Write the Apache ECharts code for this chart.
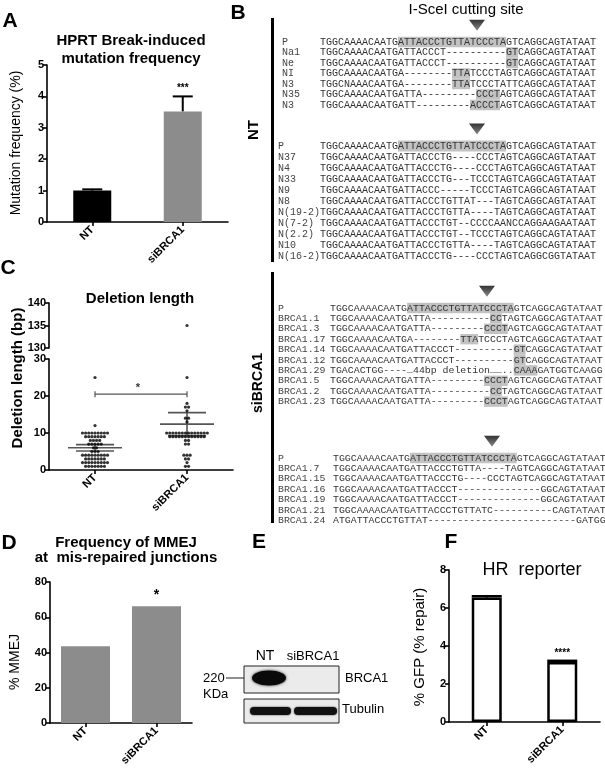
<!DOCTYPE html>
<html>
<head>
<meta charset="utf-8">
<script src="https://cdn.jsdelivr.net/npm/echarts@6/dist/echarts.min.js"></script>
<style>
    html, body { margin: 0; padding: 0; background: #fff; }
    #chart { width: 605px; height: 770px; }
</style>
</head>
<body>
<div id="chart"></div>
<script>
    // groups on every x axis
    const groups = ['NT', 'siBRCA1'];

    // A: HPRT break-induced mutation frequency (%)
    const hprtMean = [1.0, 3.52];
    const hprtErr = [0.04, 0.48];
    const hprtStars = ['', '***'];

    // C: deletion length (bp), one value per junction
    const delNT = [25, 12,
        10, 10, 10, 10, 10, 10, 10, 10, 10,
        9, 9, 9, 9, 9, 9, 9,
        8, 8, 8, 8,
        7, 7, 7, 7, 7,
        6, 6,
        5, 5, 5,
        4, 4, 4, 4, 4, 4, 4, 4, 4,
        3, 3, 3, 3, 3, 3, 3,
        2, 2, 2, 2, 2, 2, 2, 2, 2,
        1, 1, 1, 1, 1, 1, 1];
    const delSi = [135, 25, 18, 17, 17, 16, 14, 14, 13,
        10, 10, 10, 10, 10, 10, 10, 10, 10, 10, 10, 10, 10, 10,
        9, 9, 9, 9, 9, 9, 9, 9, 9, 9, 9, 9,
        8, 8, 7, 7, 4, 4, 4, 3, 3, 2, 1, 1];
    const delMean = [6.0, 12.4];
    const delSem = [0.85, 3.1];
    const delSigLevel = 20.5;

    // D: % MMEJ at mis-repaired junctions
    const mmej = [43.6, 66.3];
    const mmejStars = ['', '*'];

    // F: HR reporter, % GFP
    const gfp = [6.55, 3.16];
    const gfpErr = [0.07, 0.06];
    const gfpStars = ['', '****'];

    // B: junction sequences, marks = [start, length] of shaded part
    const ntSet1Labels = ['P', 'Na1', 'Ne', 'NI', 'N3', 'N35', 'N3'];
    const ntSet1Seqs = [
        'TGGCAAAACAATGATTACCCTGTTATCCCTAGTCAGGCAGTATAAT',
        'TGGCAAAACAATGATTACCCT----------GTCAGGCAGTATAAT',
        'TGGCAAAACAATGATTACCCT----------GTCAGGCAGTATAAT',
        'TGGCAAAACAATGA--------TTATCCCTAGTCAGGCAGTATAAT',
        'TGGCNAAACAATGA--------TTATCCCTATTCAGGCAGTATAAT',
        'TGGCAAAACAATGATTA---------CCCTAGTCAGGCAGTATAAT',
        'TGGCAAAACAATGATT---------ACCCTAGTCAGGCAGTATAAT'
    ];
    const ntSet1Marks = [[13, 18], [31, 2], [31, 2], [22, 3], [22, 3], [26, 4], [25, 5]];

    const ntSet2Labels = ['P', 'N37', 'N4', 'N33', 'N9', 'N8', 'N(19-2)', 'N(7-2)', 'N(2.2)', 'N10', 'N(16-2)'];
    const ntSet2Seqs = [
        'TGGCAAAACAATGATTACCCTGTTATCCCTAGTCAGGCAGTATAAT',
        'TGGCAAAACAATGATTACCCTG----CCCTAGTCAGGCAGTATAAT',
        'TGGCAAAACAATGATTACCCTG----CCCTAGTCAGGCAGTATAAT',
        'TGGCAAAACAATGATTACCCTG---TCCCTAGTCAGGCAGTATAAT',
        'TGGCAAAACAATGATTACCC-----TCCCTAGTCAGGCAGTATAAT',
        'TGGCAAAACAATGATTACCCTGTTAT---TAGTCAGGCAGTATAAT',
        'TGGCAAAACAATGATTACCCTGTTA----TAGTCAGGCAGTATAAT',
        'TGGCAAAACAATGATTACCCTGT--CCCCAANCCAGGAAGAATAAT',
        'TGGCAAAACAATGATTACCCTGT--TCCCTAGTCAGGCAGTATAAT',
        'TGGCAAAACAATGATTACCCTGTTA----TAGTCAGGCAGTATAAT',
        'TGGCAAAACAATGATTACCCTG----CCCTAGTCAGGCGGTATAAT'
    ];
    const ntSet2Marks = [[13, 18]];

    const siSet1Labels = ['P', 'BRCA1.1', 'BRCA1.3', 'BRCA1.17', 'BRCA1.14', 'BRCA1.12', 'BRCA1.29', 'BRCA1.5', 'BRCA1.2', 'BRCA1.23'];
    const siSet1Seqs = [
        'TGGCAAAACAATGATTACCCTGTTATCCCTAGTCAGGCAGTATAAT',
        'TGGCAAAACAATGATTA----------CCTAGTCAGGCAGTATAAT',
        'TGGCAAAACAATGATTA---------CCCTAGTCAGGCAGTATAAT',
        'TGGCAAAACAATGA--------TTATCCCTAGTCAGGCAGTATAAT',
        'TGGCAAAACAATGATTACCCT----------GTCAGGCAGTATAAT',
        'TGGCAAAACAATGATTACCCT----------GTCAGGCAGTATAAT',
        'TGACACTGG----\u202644bp deletion\u2026\u2026..CAAAGATGGTCAAGG',
        'TGGCAAAACAATGATTA---------CCCTAGTCAGGCAGTATAAT',
        'TGGCAAAACAATGATTA----------CCTAGTCAGGCAGTATAAT',
        'TGGCAAAACAATGATTA---------CCCTAGTCAGGCAGTATAAT'
    ];
    const siSet1Marks = [[13, 18], [27, 2], [26, 4], [22, 3], [31, 2], [31, 2], [31, 4], [26, 4], [27, 2], [26, 4]];

    const siSet2Labels = ['P', 'BRCA1.7', 'BRCA1.15', 'BRCA1.16', 'BRCA1.19', 'BRCA1.21', 'BRCA1.24'];
    const siSet2Seqs = [
        'TGGCAAAACAATGATTACCCTGTTATCCCTAGTCAGGCAGTATAAT',
        'TGGCAAAACAATGATTACCCTGTTA----TAGTCAGGCAGTATAAT',
        'TGGCAAAACAATGATTACCCTG----CCCTAGTCAGGCAGTATAAT',
        'TGGCAAAACAATGATTACCCT--------------GGCAGTATAAT',
        'TGGCAAAACAATGATTACCCT--------------GGCAGTATAAT',
        'TGGCAAAACAATGATTACCCTGTTATC----------CAGTATAAT',
        'ATGATTACCCTGTTAT-------------------------GATGG'
    ];
    const siSet2Marks = [[13, 18]];

    const sans = '"Liberation Sans", Arial, sans-serif'
    const mono = '"Liberation Mono", "Courier New", monospace'

    // spread equal values side by side (beeswarm)
    function swarm(values, center) {
        let seen = {}, total = {}
        values.forEach(v => { total[v] = (total[v] || 0) + 1 })
        return values.map(v => {
            let j = seen[v] = (seen[v] === undefined ? 0 : seen[v] + 1)
            return [center + (j - (total[v] - 1) / 2) * 0.034, v]
        })
    }
    let swarmPts = swarm(delNT, 1).concat(swarm(delSi, 2))

    // error bar + stars on top of a bar (category x axis)
    function errorBars(capHalf, lw, stars, starFont, gap) {
        return function (params, api) {
            let i = api.value(0), v = api.value(1), e = api.value(2)
            let base = api.coord([i, v]), top = api.coord([i, v + e])
            let kids = []
            if (e > 0) {
                kids.push({type: 'line', shape: {x1: base[0], y1: base[1], x2: top[0], y2: top[1]}, style: {stroke: '#000', lineWidth: lw}})
                kids.push({type: 'line', shape: {x1: top[0] - capHalf, y1: top[1], x2: top[0] + capHalf, y2: top[1]}, style: {stroke: '#000', lineWidth: lw}})
            }
            let s = stars[params.dataIndex]
            if (s) {
                kids.push({type: 'text', style: {text: s, x: top[0], y: top[1] - gap, align: 'center', verticalAlign: 'bottom', font: starFont, fill: '#000'}})
            }
            return {type: 'group', children: kids}
        }
    }

    function yAx(grid, min, max, interval) {
        return {
            type: 'value', gridIndex: grid, min: min, max: max, interval: interval,
            axisLine: {show: true, lineStyle: {color: '#000', width: 1.6}},
            axisTick: {show: true, length: 4, lineStyle: {color: '#000', width: 1.6}},
            axisLabel: {color: '#000', fontFamily: sans, fontWeight: 'bold', fontSize: 11, margin: 3},
            splitLine: {show: false}
        }
    }

    function xCat(grid) {
        return {
            type: 'category', gridIndex: grid, data: groups,
            axisLine: {show: true, lineStyle: {color: '#000', width: 1.6}},
            axisTick: {show: true, alignWithLabel: true, length: 4, lineStyle: {color: '#000', width: 1.6}},
            axisLabel: {rotate: 45, color: '#000', fontFamily: sans, fontWeight: 'bold', fontSize: 11, margin: 6}
        }
    }

    function xVal(grid) {
        return {type: 'value', gridIndex: grid, min: 0.5, max: 2.5, show: false}
    }

    // --- free text and drawings (panels B and E, titles, letters) ---
    let graphics = []

    function txt(x, y, text, font, opts) {
        opts = opts || {}
        graphics.push({
            type: 'text', x: x, y: y, rotation: opts.rot || 0,
            style: {text: text, x: 0, y: 0, font: font, fill: opts.fill || '#000',
                align: opts.align || 'center', verticalAlign: 'middle', lineHeight: opts.lh}
        })
    }

    function richRow(seq, mark) {
        if (!mark) return '{n|' + seq + '}'
        let s = mark[0], l = mark[1], out = ''
        if (s > 0) out += '{n|' + seq.slice(0, s) + '}'
        out += '{h|' + seq.slice(s, s + l) + '}'
        if (s + l < seq.length) out += '{n|' + seq.slice(s + l) + '}'
        return out
    }

    function seqBlock(labelX, seqX, firstY, lh, size, labels, seqs, marks, triX) {
        let top = firstY - lh / 2
        graphics.push({
            type: 'text', x: labelX, y: top,
            style: {text: labels.join('\n'), x: 0, y: 0, fontFamily: mono, fontSize: size, lineHeight: lh,
                fill: '#444', align: 'left', verticalAlign: 'top'}
        })
        graphics.push({
            type: 'text', x: seqX, y: top,
            style: {
                text: seqs.map((s, i) => richRow(s, marks[i])).join('\n'),
                x: 0, y: 0, align: 'left', verticalAlign: 'top',
                rich: {
                    n: {fontFamily: mono, fontSize: size, lineHeight: lh, height: lh, fill: '#333'},
                    h: {fontFamily: mono, fontSize: size, lineHeight: lh, height: lh, fill: '#333', backgroundColor: '#c2c2c2'}
                }
            }
        })
        // cutting-site arrow
        let ty = top - 17
        graphics.push({
            type: 'polygon', shape: {points: [[triX - 8, ty], [triX + 8, ty], [triX, ty + 11]]},
            style: {fill: new echarts.graphic.LinearGradient(0, 0, 0, 1, [
                {offset: 0, color: '#333'}, {offset: 1, color: '#8a8a8a'}])}
        })
    }

    // panel letters
    txt(10, 21, 'A', 'bold 21px ' + sans)
    txt(238, 13, 'B', 'bold 21px ' + sans)
    txt(8, 268, 'C', 'bold 21px ' + sans)
    txt(9, 543, 'D', 'bold 21px ' + sans)
    txt(259, 542, 'E', 'bold 21px ' + sans)
    txt(451, 542, 'F', 'bold 21px ' + sans)

    // titles
    txt(131, 50, 'HPRT Break-induced\nmutation frequency', 'bold 15px ' + sans, {lh: 18})
    txt(140, 299, 'Deletion length', 'bold 15px ' + sans)
    txt(126, 550, 'Frequency of MMEJ\nat  mis-repaired junctions', 'bold 15px ' + sans, {lh: 15})
    txt(532, 570, 'HR  reporter', '18px ' + sans)

    // y axis names
    txt(16, 143, 'Mutation frequency (%)', '14px ' + sans, {rot: Math.PI / 2})
    txt(18, 378, 'Deletion length (bp)', 'bold 15px ' + sans, {rot: Math.PI / 2})
    txt(15, 662, '% MMEJ', '14px ' + sans, {rot: Math.PI / 2})
    txt(420, 647, '% GFP (% repair)', '15px ' + sans, {rot: Math.PI / 2})

    // panel B
    txt(466, 10, 'I-SceI cutting site', '15px ' + sans)
    graphics.push({type: 'rect', shape: {x: 271, y: 18, width: 3, height: 244}, style: {fill: '#000'}})
    graphics.push({type: 'rect', shape: {x: 271, y: 272, width: 3, height: 251}, style: {fill: '#000'}})
    txt(254, 130, 'NT', 'bold 15px ' + sans, {rot: Math.PI / 2})
    txt(258, 383, 'siBRCA1', 'bold 14px ' + sans, {rot: Math.PI / 2})
    seqBlock(282, 320, 42, 10.5, 10, ntSet1Labels, ntSet1Seqs, ntSet1Marks, 477)
    seqBlock(278, 320, 146, 11, 10, ntSet2Labels, ntSet2Seqs, ntSet2Marks, 477)
    seqBlock(278, 330, 308, 10.4, 9.9, siSet1Labels, siSet1Seqs, siSet1Marks, 487)
    seqBlock(278, 333, 458, 10.4, 9.9, siSet2Labels, siSet2Seqs, siSet2Marks, 492)

    // panel E western blot
    txt(265, 656, 'NT', '14px ' + sans)
    txt(313, 656, 'siBRCA1', '13px ' + sans)
    graphics.push({type: 'rect', shape: {x: 244, y: 666, width: 95, height: 27}, style: {fill: '#ebebeb', stroke: '#222', lineWidth: 1}})
    graphics.push({type: 'rect', shape: {x: 244, y: 699, width: 95, height: 24}, style: {fill: '#ebebeb', stroke: '#222', lineWidth: 1}})
    graphics.push({type: 'ellipse', shape: {cx: 269, cy: 678, rx: 17, ry: 7.5}, style: {fill: '#0a0a0a', shadowBlur: 3, shadowColor: '#222'}})
    graphics.push({type: 'rect', shape: {x: 250, y: 707, width: 41, height: 8, r: 4}, style: {fill: '#111', shadowBlur: 2, shadowColor: '#333'}})
    graphics.push({type: 'rect', shape: {x: 294, y: 707, width: 43, height: 8, r: 4}, style: {fill: '#111', shadowBlur: 2, shadowColor: '#333'}})
    graphics.push({type: 'line', shape: {x1: 226, y1: 678, x2: 244, y2: 678}, style: {stroke: '#222', lineWidth: 1}})
    txt(203, 678, '220', '13px ' + sans, {align: 'left'})
    txt(203, 694, 'KDa', '13px ' + sans, {align: 'left'})
    txt(345, 678, 'BRCA1', '13px ' + sans, {align: 'left'})
    txt(342, 709, 'Tubulin', '13px ' + sans, {align: 'left'})

    let chart = echarts.init(document.getElementById('chart'))
    chart.setOption({
        animation: false,
        backgroundColor: '#fff',
        grid: [
            {left: 47, top: 65, width: 181, height: 157},
            {left: 49, top: 303, width: 184, height: 45},
            {left: 49, top: 359, width: 184, height: 111},
            {left: 50, top: 582, width: 142, height: 141},
            {left: 449, top: 570, width: 151, height: 152}
        ],
        xAxis: [xCat(0), xVal(1), xCat(2), xVal(2), xCat(3), xCat(4)],
        yAxis: [yAx(0, 0, 5, 1), yAx(1, 130, 140, 5), yAx(2, 0, 30, 10), yAx(3, 0, 80, 20), yAx(4, 0, 8, 2)],
        series: [
            {
                type: 'bar', xAxisIndex: 0, yAxisIndex: 0, barWidth: 38,
                data: hprtMean.map((v, i) => ({value: v, itemStyle: {color: i === 0 ? '#000' : '#8c8c8c'}}))
            },
            {
                type: 'custom', xAxisIndex: 0, yAxisIndex: 0,
                renderItem: errorBars(10, 2, hprtStars, 'bold 10px ' + sans, 3),
                data: hprtMean.map((v, i) => [i, v, hprtErr[i]])
            },
            {
                type: 'scatter', xAxisIndex: 1, yAxisIndex: 1, symbolSize: 3.2, itemStyle: {color: '#000'},
                data: swarmPts.filter(p => p[1] >= 130)
            },
            {
                type: 'scatter', xAxisIndex: 3, yAxisIndex: 2, symbolSize: 3.2, itemStyle: {color: '#000'},
                data: swarmPts.filter(p => p[1] <= 30)
            },
            {
                // mean and SEM
                type: 'custom', xAxisIndex: 3, yAxisIndex: 2,
                data: delMean.map((m, i) => [i + 1, m, delSem[i]]),
                renderItem: function (params, api) {
                    let x = api.value(0), m = api.value(1), s = api.value(2)
                    let c = api.coord([x, m]), hi = api.coord([x, m + s]), lo = api.coord([x, m - s])
                    let st = {stroke: '#555', lineWidth: 1.6}
                    return {type: 'group', children: [
                        {type: 'line', shape: {x1: c[0] - 27, y1: c[1], x2: c[0] + 27, y2: c[1]}, style: st},
                        {type: 'line', shape: {x1: hi[0] - 19, y1: hi[1], x2: hi[0] + 19, y2: hi[1]}, style: st},
                        {type: 'line', shape: {x1: lo[0] - 19, y1: lo[1], x2: lo[0] + 19, y2: lo[1]}, style: st},
                        {type: 'line', shape: {x1: hi[0], y1: hi[1], x2: lo[0], y2: lo[1]}, style: st}
                    ]}
                }
            },
            {
                // significance bracket
                type: 'custom', xAxisIndex: 3, yAxisIndex: 2,
                data: [[1, 2, delSigLevel]],
                renderItem: function (params, api) {
                    let a = api.coord([api.value(0), api.value(2)]), b = api.coord([api.value(1), api.value(2)])
                    let st = {stroke: '#555', lineWidth: 1.2}
                    return {type: 'group', children: [
                        {type: 'line', shape: {x1: a[0], y1: a[1], x2: b[0], y2: b[1]}, style: st},
                        {type: 'line', shape: {x1: a[0], y1: a[1] - 3, x2: a[0], y2: a[1] + 3}, style: st},
                        {type: 'line', shape: {x1: b[0], y1: b[1] - 3, x2: b[0], y2: b[1] + 3}, style: st},
                        {type: 'text', style: {text: '*', x: (a[0] + b[0]) / 2 - 3, y: a[1] - 1, align: 'center', verticalAlign: 'bottom', font: 'bold 11px ' + sans, fill: '#333'}}
                    ]}
                }
            },
            {
                type: 'bar', xAxisIndex: 4, yAxisIndex: 3, barWidth: 49, itemStyle: {color: '#8c8c8c'},
                data: mmej
            },
            {
                type: 'custom', xAxisIndex: 4, yAxisIndex: 3,
                renderItem: errorBars(0, 0, mmejStars, 'bold 14px ' + sans, 4),
                data: mmej.map((v, i) => [i, v, 0])
            },
            {
                type: 'bar', xAxisIndex: 5, yAxisIndex: 4, barWidth: 30,
                itemStyle: {color: '#fff', borderColor: '#000', borderWidth: 2.5},
                data: gfp
            },
            {
                type: 'custom', xAxisIndex: 5, yAxisIndex: 4,
                renderItem: errorBars(15, 2.5, gfpStars, 'bold 10px ' + sans, 3),
                data: gfp.map((v, i) => [i, v, gfpErr[i]])
            }
        ],
        graphic: graphics
    })
</script>
</body>
</html>
